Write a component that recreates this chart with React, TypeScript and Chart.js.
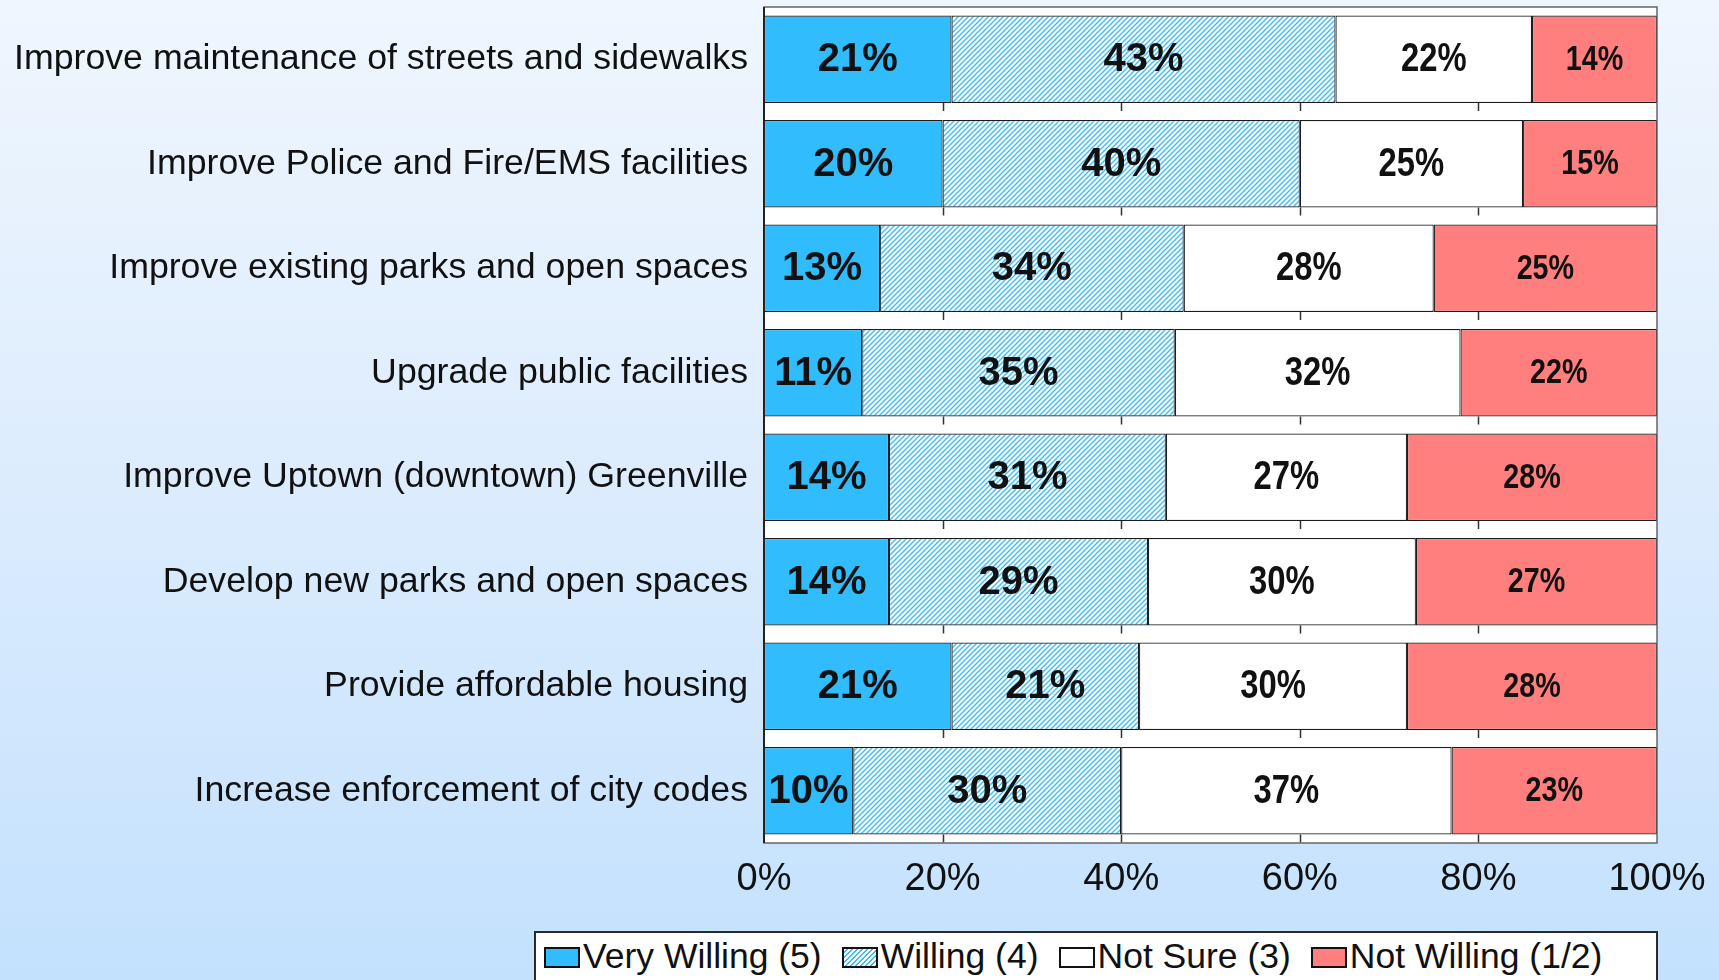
import React, { useEffect, useRef } from 'react';
import { Chart, registerables } from 'chart.js';

Chart.register(...registerables);

const categories = [
  'Improve maintenance of streets and sidewalks',
  'Improve Police and Fire/EMS facilities',
  'Improve existing parks and open spaces',
  'Upgrade public facilities',
  'Improve Uptown (downtown) Greenville',
  'Develop new parks and open spaces',
  'Provide affordable housing',
  'Increase enforcement of city codes',
];
const veryWilling = [21, 20, 13, 11, 14, 14, 21, 10];
const willing = [43, 40, 34, 35, 31, 29, 21, 30];
const notSure = [22, 25, 28, 32, 27, 30, 30, 37];
const notWilling = [14, 15, 25, 22, 28, 27, 28, 23];
const seriesNames = ['Very Willing (5)', 'Willing (4)', 'Not Sure (3)', 'Not Willing (1/2)'];
const xTickLabels = ['0%', '20%', '40%', '60%', '80%', '100%'];

const W = 1719;
const H = 980;
const BLUE = '#30bcfd';
const HATCH = '#3dbcf5';
const RED = '#ff7f7f';

function hasFont(name: string): boolean {
  const c = document.createElement('canvas').getContext('2d');
  if (!c) return false;
  const t = 'Improve maintenance 0123456789% WMwm';
  c.font = '40px monospace';
  const a = c.measureText(t).width;
  c.font = `40px '${name}', monospace`;
  const b = c.measureText(t).width;
  return Math.abs(a - b) > 0.5;
}

function makeHatch(): CanvasPattern | string {
  const s = 5;
  const c = document.createElement('canvas');
  c.width = s;
  c.height = s;
  const g = c.getContext('2d');
  if (!g) return '#bfe8fb';
  g.fillStyle = '#ffffff';
  g.fillRect(0, 0, s, s);
  g.strokeStyle = HATCH;
  g.lineWidth = 1.4;
  g.beginPath();
  for (let k = -1; k <= 1; k++) {
    g.moveTo(k * s - 1, s + 1);
    g.lineTo(k * s + s + 1, -1);
  }
  g.stroke();
  const p = g.createPattern(c, 'repeat');
  return p || '#bfe8fb';
}

export default function App() {
  const ref = useRef<HTMLCanvasElement | null>(null);

  useEffect(() => {
    if (!ref.current) return;
    const narrowOK = hasFont('Liberation Sans Narrow');
    const NARROW = narrowOK ? "'Liberation Sans Narrow', 'Liberation Sans', Arial" : "'Liberation Sans', Arial";
    const k = narrowOK ? 1 : 0.82;
    const hatch = makeHatch();

    // [font, horizontal squeeze]
    const labelFonts: [string, number][] = [
      [`bold 40px 'Liberation Sans', Arial`, 1],
      [`bold 40px 'Liberation Sans', Arial`, 1],
      [`bold 40px 'Liberation Sans', Arial`, 0.82],
      [`bold 35px 'Liberation Sans', Arial`, 0.82],
    ];

    const customPlugin = {
      id: 'customDecor',
      beforeDraw(chart: any) {
        const { ctx, chartArea: a } = chart;
        ctx.save();
        ctx.fillStyle = '#ffffff';
        ctx.fillRect(a.left, a.top, a.right - a.left, a.bottom - a.top);
        ctx.restore();
      },
      beforeDatasetsDraw(chart: any) {
        const { ctx } = chart;
        const xs = chart.scales.x;
        const meta = chart.getDatasetMeta(0);
        ctx.save();
        ctx.strokeStyle = '#333';
        ctx.lineWidth = 1.5;
        ctx.beginPath();
        meta.data.forEach((el: any) => {
          const p = el.getProps(['y', 'height'], true);
          const yb = p.y + p.height / 2;
          xs.ticks.forEach((t: any) => {
            if (t.value <= 0 || t.value >= 100) return;
            const px = Math.round(xs.getPixelForValue(t.value)) + 0.5;
            ctx.moveTo(px, yb);
            ctx.lineTo(px, yb + 8);
          });
        });
        ctx.stroke();
        ctx.restore();
      },
      afterDatasetsDraw(chart: any) {
        const { ctx, chartArea: a } = chart;
        ctx.save();
        ctx.textAlign = 'center';
        ctx.textBaseline = 'middle';
        ctx.fillStyle = '#111';
        chart.data.datasets.forEach((ds: any, di: number) => {
          const meta = chart.getDatasetMeta(di);
          const [font, sx] = labelFonts[di];
          ctx.font = font;
          meta.data.forEach((el: any, i: number) => {
            const p = el.getProps(['x', 'y', 'base'], true);
            ctx.save();
            ctx.translate((p.x + p.base) / 2, p.y + 1);
            ctx.scale(sx, 1);
            ctx.fillText(`${ds.data[i]}%`, 0, 0);
            ctx.restore();
          });
        });
        // plot area frame
        ctx.strokeStyle = '#666';
        ctx.lineWidth = 1.5;
        ctx.strokeRect(a.left, a.top, a.right - a.left, a.bottom - a.top);
        ctx.strokeStyle = '#222';
        ctx.lineWidth = 2;
        ctx.beginPath();
        ctx.moveTo(a.left, a.top);
        ctx.lineTo(a.left, a.bottom);
        ctx.stroke();
        ctx.restore();
      },
    };

    const common = {
      borderColor: '#1c1c1c',
      borderWidth: 1.2,
      borderSkipped: false,
      barPercentage: 0.837,
      categoryPercentage: 1,
    };

    const chart = new Chart(ref.current, {
      type: 'bar',
      data: {
        labels: categories,
        datasets: [
          { label: seriesNames[0], data: veryWilling, backgroundColor: BLUE, ...common },
          { label: seriesNames[1], data: willing, backgroundColor: hatch as any, ...common },
          { label: seriesNames[2], data: notSure, backgroundColor: '#ffffff', ...common },
          { label: seriesNames[3], data: notWilling, backgroundColor: RED, ...common },
        ],
      } as any,
      options: {
        indexAxis: 'y',
        responsive: false,
        animation: false,
        devicePixelRatio: 1,
        layout: { padding: { top: 7, right: 62, left: 0, bottom: 0 } },
        plugins: { legend: { display: false }, tooltip: { enabled: false } },
        scales: {
          x: {
            stacked: true,
            min: 0,
            max: 100,
            ticks: {
              stepSize: 20,
              autoSkip: false,
              maxRotation: 0,
              padding: 14,
              color: '#111',
              font: { family: NARROW, size: Math.round(46 * k) },
              callback: (_v: any, i: number) => xTickLabels[i],
            },
            grid: { display: false, drawTicks: false },
            border: { display: false },
            afterFit: (s: any) => {
              s.height = 137;
              s.paddingLeft = 0;
              s.paddingRight = 0;
            },
          },
          y: {
            stacked: true,
            ticks: {
              padding: 16,
              color: '#111',
              font: { family: NARROW, size: narrowOK ? 43 : 35.7 },
            },
            grid: { display: false, drawTicks: false },
            border: { display: false },
            afterFit: (s: any) => {
              s.width = 764;
              s.paddingTop = 0;
              s.paddingBottom = 0;
            },
          },
        },
      } as any,
      plugins: [customPlugin],
    });
    return () => chart.destroy();
  }, []);

  const markerStyles: React.CSSProperties[] = [
    { background: BLUE },
    {
      background: `repeating-linear-gradient(135deg, #ffffff 0px, #ffffff 2px, ${HATCH} 2px, ${HATCH} 3.5px)`,
    },
    { background: '#ffffff' },
    { background: RED },
  ];

  return (
    <div
      style={{
        position: 'fixed',
        left: 0,
        top: 0,
        width: W,
        height: H,
        overflow: 'hidden',
        background: 'linear-gradient(180deg, #eff6fe 0%, #dcecfd 50%, #c3e1fd 100%)',
      }}
    >
      <canvas ref={ref} width={W} height={H} style={{ display: 'block', width: W, height: H }} />
      <div
        style={{
          position: 'absolute',
          left: 534,
          top: 931,
          width: 1124,
          height: 80,
          boxSizing: 'border-box',
          border: '2px solid #2a2a2a',
          background: '#ffffff',
          padding: '3px 0 0 8px',
          display: 'flex',
          alignItems: 'flex-start',
          fontFamily: "'Liberation Sans', Arial, sans-serif",
          fontSize: 35.5,
          lineHeight: '40px',
          color: '#111',
          whiteSpace: 'nowrap',
        }}
      >
        {seriesNames.map((n, i) => (
          <div key={n} style={{ display: 'flex', alignItems: 'center', marginRight: 20 }}>
            <span
              style={{
                display: 'inline-block',
                width: 36,
                height: 21,
                boxSizing: 'border-box',
                border: '2px solid #111',
                marginRight: 3,
                marginTop: 2,
                ...markerStyles[i],
              }}
            />
            <span>{n}</span>
          </div>
        ))}
      </div>
    </div>
  );
}
